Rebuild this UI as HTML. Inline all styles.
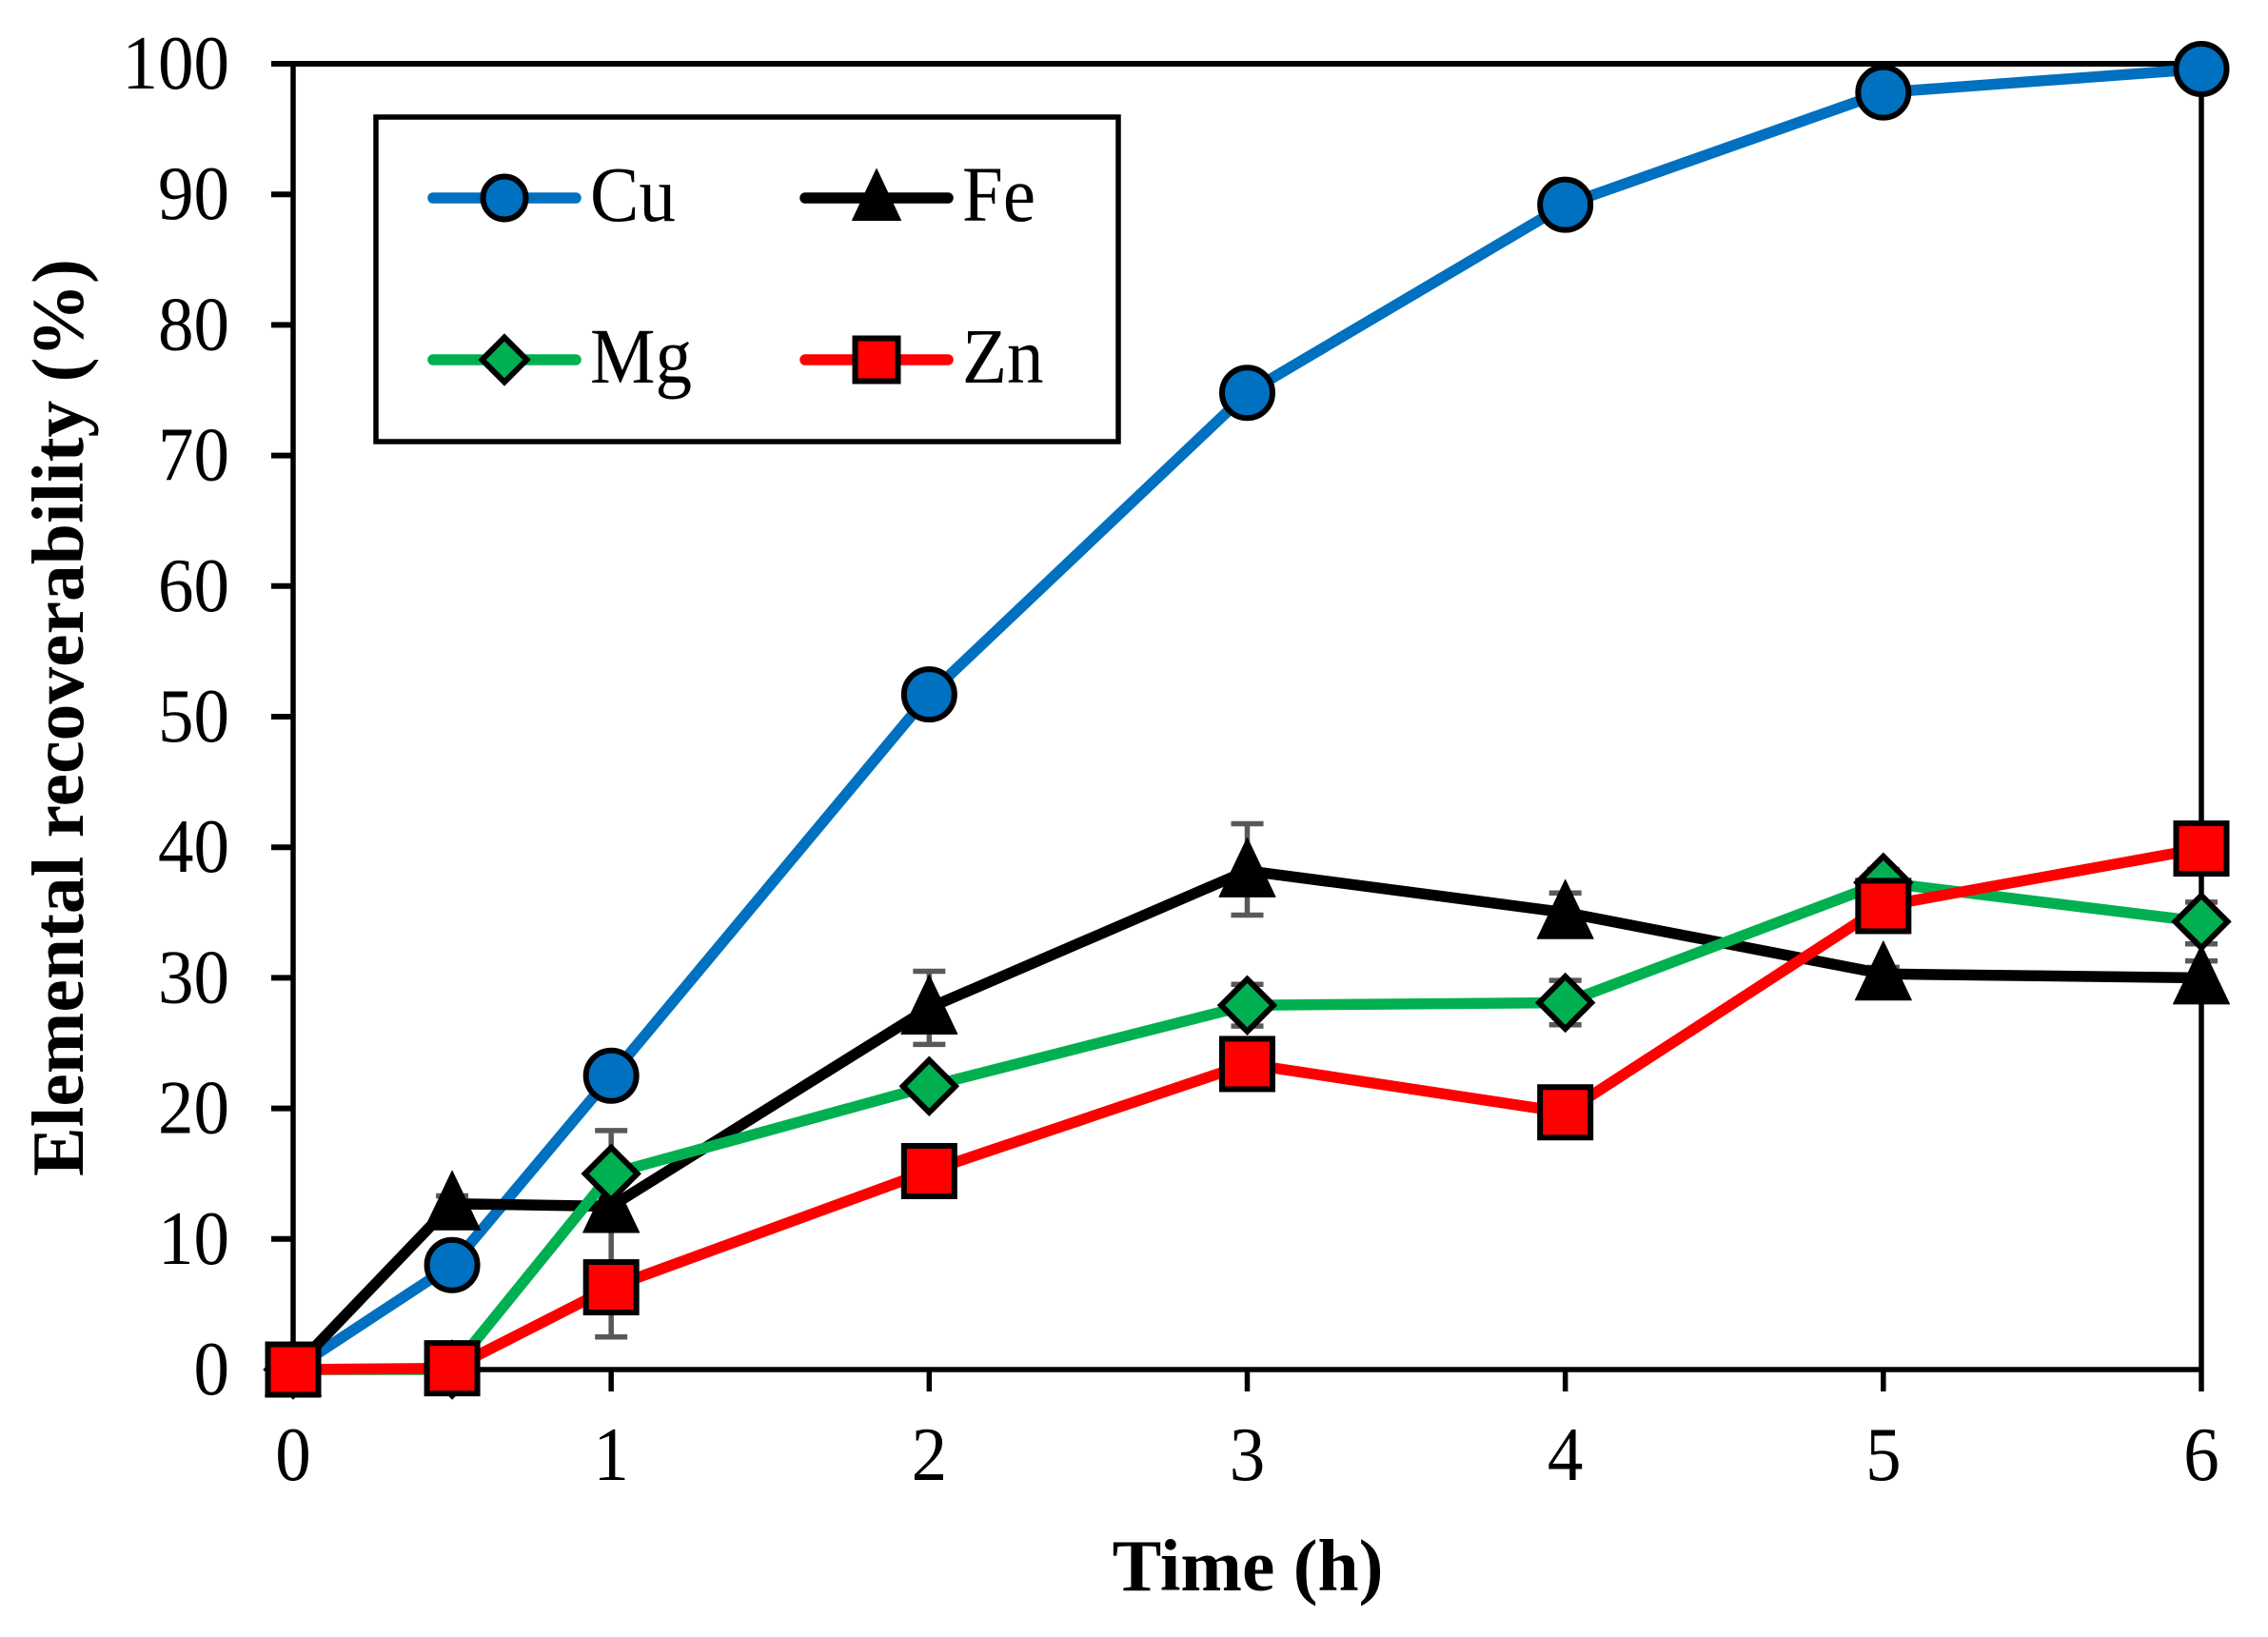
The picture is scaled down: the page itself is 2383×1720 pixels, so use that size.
<!DOCTYPE html>
<html lang="en">
<head>
<meta charset="utf-8">
<title>Elemental recoverability over time</title>
<style>
html,body{margin:0;padding:0;background:#fff;width:2383px;height:1720px;overflow:hidden}
svg{display:block}
text{font-family:"Liberation Serif","Times New Roman",serif;fill:#000}
</style>
</head>
<body>
<svg id="chart" xmlns="http://www.w3.org/2000/svg" width="2383" height="1720" viewBox="0 0 2383 1720">
  <text x="1311" y="1671" font-size="77.5" font-weight="bold" text-anchor="middle">Time (h)</text>
  <text transform="translate(87,754) rotate(-90)" font-size="77.6" font-weight="bold" text-anchor="middle">Elemental recoverability (%)</text>
</svg>
<script>
const timeHours = [0, 0.5, 1, 2, 3, 4, 5, 6];
const xTickValues = [0, 1, 2, 3, 4, 5, 6];
const yTickValues = [0, 10, 20, 30, 40, 50, 60, 70, 80, 90, 100];

const cuValues = [0, 8.0, 22.5, 51.7, 74.8, 89.2, 97.8, 99.6];
const feValues = [0, 12.7, 12.5, 27.7, 38.2, 35.0, 30.3, 30.0];
const mgValues = [0, 0, 15.0, 21.7, 27.9, 28.1, 37.3, 34.3];
const znValues = [0, 0.1, 6.3, 15.2, 23.4, 19.7, 35.5, 39.9];

const feErrorUp = [0, 0.6, 5.8, 2.8, 3.6, 1.5, 0.5, 1.3];
const feErrorDown = [0, 0.6, 10.0, 2.8, 3.4, 1.5, 0.5, 1.3];
const mgErrorUp = [0, 0, 0, 0.8, 1.6, 1.7, 1.0, 1.5];
const mgErrorDown = [0, 0, 0, 0.8, 1.6, 1.7, 1.0, 1.7];

const svg = document.getElementById('chart');
const NS = 'http://www.w3.org/2000/svg';

// plot-area mapping
const plotLeft = 308, plotRight = 2313, plotTop = 67, plotBottom = 1439;
const xDomainMax = 6, yDomainMax = 100;
function xScale(v) { return plotLeft + (v / xDomainMax) * (plotRight - plotLeft); }
function yScale(v) { return plotBottom - (v / yDomainMax) * (plotBottom - plotTop); }

function make(tag, attrs, parent) {
  const el = document.createElementNS(NS, tag);
  for (const k in attrs) el.setAttribute(k, attrs[k]);
  (parent || svg).appendChild(el);
  return el;
}

// axes frame
const frame = make('path', {
  d: 'M' + plotLeft + ' ' + plotBottom + 'H' + plotRight + 'M' + plotLeft + ' ' + plotTop + 'V' + plotBottom + 'M' + plotRight + ' ' + plotTop + 'V' + plotBottom,
  fill: 'none', stroke: '#000', 'stroke-width': 5.5
});



const topSpine = make('line', { x1: plotLeft - 23, x2: plotRight + 3, y1: plotTop, y2: plotTop, stroke: '#000', 'stroke-width': 6 });



// y ticks
yTickValues.forEach(function (v) {
  const y = yScale(v);
  const tick = make('line', { x1: plotLeft - 23, x2: plotLeft, y1: y, y2: y, stroke: '#000', 'stroke-width': 6 });
  
  
  const label = make('text', { transform: 'translate(241,' + (y + 26) + ') scale(1,1.07)', 'font-size': 75, 'text-anchor': 'end' });
  
  
  label.textContent = String(v);
});

// x ticks
xTickValues.forEach(function (v) {
  const x = xScale(v);
  const tick = make('line', { x1: x, x2: x, y1: plotBottom, y2: plotBottom + 23, stroke: '#000', 'stroke-width': 5.5 });
  
  
  const label = make('text', { transform: 'translate(' + x + ',1555) scale(1,1.07)', 'font-size': 75, 'text-anchor': 'middle' });
  
  
  label.textContent = String(v);
});

// marker drawing centred on (cx, cy); s is the overall size
function drawMarker(kind, cx, cy, s, fill, parent) {
  const h = s / 2;
  if (kind === 'circle') {
    return make('circle', { cx: cx, cy: cy, r: h - 3, fill: fill, stroke: '#000', 'stroke-width': 6 }, parent);
  }
  if (kind === 'triangle') {
    return make('path', {
      d: 'M' + cx + ' ' + (cy - h - 5) + 'L' + (cx + h) + ' ' + (cy + h - 2) + 'L' + (cx - h) + ' ' + (cy + h - 2) + 'Z',
      fill: '#000', stroke: '#000', 'stroke-width': 1, 'stroke-linejoin': 'round'
    }, parent);
  }
  if (kind === 'diamond') {
    const d = h - 2;
    return make('path', {
      d: 'M' + cx + ' ' + (cy - d) + 'L' + (cx + d) + ' ' + cy + 'L' + cx + ' ' + (cy + d) + 'L' + (cx - d) + ' ' + cy + 'Z',
      fill: fill, stroke: '#000', 'stroke-width': 6
    }, parent);
  }
  return make('rect', { x: cx - h + 3, y: cy - h + 3, width: s - 6, height: s - 6, fill: fill, stroke: '#000', 'stroke-width': 6 }, parent);
}

// error bars drawn beneath all series
function drawErrors(name, values, errorUp, errorDown) {
  values.forEach(function (v, i) {
    if (!errorUp[i] && !errorDown[i]) return;
    const x = xScale(timeHours[i]);
    const hi = yScale(v + errorUp[i]);
    const lo = yScale(v - errorDown[i]);
    const bar = make('path', {
      d: 'M' + x + ' ' + hi + 'V' + lo + 'M' + (x - 17) + ' ' + hi + 'H' + (x + 17) + 'M' + (x - 17) + ' ' + lo + 'H' + (x + 17),
      fill: 'none', stroke: '#595959', 'stroke-width': 5.5
    });
    
    
  });
}
drawErrors('fe', feValues, feErrorUp, feErrorDown);
drawErrors('mg', mgValues, mgErrorUp, mgErrorDown);

function drawSeries(name, values, color, kind) {
  const pts = values.map(function (v, i) { return xScale(timeHours[i]) + ',' + yScale(v); }).join(' ');
  const line = make('polyline', { points: pts, fill: 'none', stroke: color, 'stroke-width': 11.5, 'stroke-linejoin': 'round', 'stroke-linecap': 'round' });
  
  
  values.forEach(function (v, i) {
    const m = drawMarker(kind, xScale(timeHours[i]), yScale(v), 59, color);
    
    
  });
}
drawSeries('cu', cuValues, '#0070C0', 'circle');
drawSeries('fe', feValues, '#000000', 'triangle');
drawSeries('mg', mgValues, '#00B050', 'diamond');
drawSeries('zn', znValues, '#FF0000', 'square');

// legend
const legendGroup = make('g', {});


const legendBox = make('rect', { x: 395, y: 123, width: 780, height: 341, fill: '#fff', stroke: '#000', 'stroke-width': 5.5 }, legendGroup);



const legendNames = ['Cu', 'Fe', 'Mg', 'Zn'];
const legendColors = ['#0070C0', '#000000', '#00B050', '#FF0000'];
const legendKinds = ['circle', 'triangle', 'diamond', 'square'];
legendNames.forEach(function (n, i) {
  const col = i % 2, row = Math.floor(i / 2);
  const lx = col === 0 ? 530 : 921;
  const ly = row === 0 ? 208 : 378;
  const entry = make('g', {}, legendGroup);
  
  
  make('line', { x1: lx - 75, x2: lx + 75, y1: ly, y2: ly, stroke: legendColors[i], 'stroke-width': 11.5, 'stroke-linecap': 'round' }, entry);
  drawMarker(legendKinds[i], lx, ly, 51, legendColors[i], entry);
  const t = make('text', { transform: 'translate(' + (lx + 90) + ',' + (ly + 24) + ') scale(1,1.07)', 'font-size': 77 }, entry);
  t.textContent = n;
});
</script>
</body>
</html>
